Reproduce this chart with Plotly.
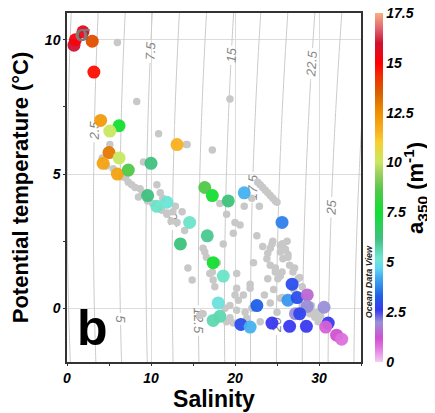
import numpy as np
import plotly.graph_objects as go

# ---------------- data ----------------
# background (grey) stations: salinity, potential temperature
grey_S = [6.0, 8.3, 10.9, 14.3, 17.3, 19.4, 5.1, 4.2, 9.1, 4.7,
          5.5, 6.5, 7.0, 7.3, 7.7, 8.1, 8.7, 8.5, 9.0, 9.6, 10.2, 10.7, 11.1, 11.4,
          11.3, 11.9, 12.6, 12.9, 13.1, 13.7, 12.4, 14.0,
          14.2, 11.9, 14.4, 14.9, 15.8, 16.4, 16.2, 16.6, 17.3, 17.6, 17.4, 17.0,
          17.9, 18.2, 19.0, 20.0, 20.6, 21.1, 22.0, 22.9, 22.6, 24.5, 25.6, 19.8,
          18.6, 20.2, 21.8, 22.2,
          22.7, 23.0, 23.3, 23.6, 23.9, 24.2, 24.5, 24.8, 25.0,
          19.4, 20.4, 20.2, 19.4, 19.8, 19.0, 21.2, 21.4, 22.0, 21.0, 20.2, 21.8,
          23.0, 16.2, 18.8, 20.0,
          23.3, 24.2, 25.4, 23.8, 24.2, 24.8, 25.1, 23.9, 25.4, 24.2, 25.0, 24.4,
          25.4, 26.0, 26.3, 25.7, 26.5, 26.9, 27.5, 28.0, 28.7, 29.5, 29.9, 29.3,
          23.9, 24.8, 25.6, 25.7, 26.2, 26.3, 27.1, 27.7, 25.4, 25.6, 28.9, 29.9,
          30.2, 28.0, 29.1, 24.6, 23.5, 27.0, 28.4]
grey_T = [9.9, 7.7, 6.5, 6.1, 5.9, 7.8, 6.1, 5.6, 5.45, 5.3,
          5.2, 4.9, 4.85, 4.7, 4.6, 4.5, 4.45, 4.15, 4.3, 4.0, 3.9, 4.6, 4.3, 4.1,
          3.65, 3.55, 3.6, 3.8, 3.2, 3.6, 3.25, 2.9,
          6.1, 3.5, 1.5, 1.05, -0.27, 2.1, 2.24, 1.9, 1.35, 0.8, 1.05, 1.3,
          1.7, 3.9, 3.5, 3.2, 3.1, 3.8, 4.1, 3.8, 2.7, 2.5, 2.4, 2.8,
          2.4, 1.3, 0.9, 1.7,
          4.7, 4.6, 4.5, 4.4, 4.3, 4.2, 4.1, 4.0, 3.95,
          0.1, 0.3, -0.07, -0.35, -0.55, -0.5, -0.15, -0.37, 0.0, 0.5, 0.75, 0.75,
          -0.5, -0.2, 0.0, 0.5,
          2.3, 2.24, 2.1, 1.85, 1.6, 1.35, 1.1, 1.1, 0.37, 0.2, -0.15, 2.4,
          2.35, 2.2, 2.0, 1.85, 1.6, 1.35, 1.1, 0.8, 0.0, -0.33, -0.15, -0.15,
          2.05, 1.5, 1.35, 2.4, 2.5, 1.9, 1.5, 1.15, 1.2, 0.4, -0.2, -0.5,
          -0.3, 0.1, 0.1, 0.7, 0.5, 0.7, 0.4]

# coloured stations: salinity, potential temperature, a350 (m-1)
col_S = [0.83, 1.0, 1.9, 3.0, 3.2, 4.0, 6.2, 5.1, 5.0, 4.3, 6.2, 6.0, 7.3,
         10.0, 9.6, 10.7, 11.9, 13.1, 13.5, 16.4, 17.3, 19.2, 21.1, 14.6, 16.7,
         25.6, 17.4, 18.6, 18.0, 17.4, 18.2, 20.7, 21.8, 22.6, 24.4,
         26.8, 26.3, 27.4, 28.6, 28.6, 27.2, 27.7, 30.6, 26.5, 28.5, 31.1,
         30.8, 32.1, 32.7]
col_T = [9.8, 10.0, 10.3, 9.95, 8.8, 7.0, 6.8, 6.6, 5.8, 5.4, 5.6, 5.0, 5.15,
         5.4, 4.2, 3.8, 3.95, 6.1, 2.4, 4.5, 4.2, 4.0, 4.3, 3.2, 2.7,
         3.2, 1.7, 1.2, 0.2, -0.45, -0.3, -0.6, -0.7, 0.1, -0.55,
         0.9, 0.3, 0.4, 0.5, 0.07, -0.2, -0.2, 0.04, -0.67, -0.67, -0.55,
         -0.7, -1.0, -1.15]
col_a350 = [16.0, 15.2, 15.5, 13.8, 14.8, 12.2, 7.6, 10.0, 13.0, 12.0, 10.0, 12.0, 8.6,
            6.2, 6.2, 5.3, 5.1, 11.6, 6.3, 8.6, 7.6, 6.3, 4.3, 5.3, 6.0,
            3.7, 7.6, 5.3, 5.0, 5.6, 5.6, 3.0, 4.3, 3.3, 2.6,
            3.0, 4.0, 3.0, 1.5, 2.0, 2.0, 2.8, 2.0, 2.6, 2.6, 2.6,
            1.0, 1.2, 0.8]

cbar_ticks = [0, 2.5, 5, 7.5, 10, 12.5, 15, 17.5]
sal_ticks = [0, 10, 20, 30]
temp_ticks = [0, 5, 10]


# ---------------- density (sigma-theta) reference field, EOS-80 at p=0 ----------------
def sigma0(S, T):
    rw = (999.842594 + 6.793952e-2 * T - 9.095290e-3 * T**2 + 1.001685e-4 * T**3
          - 1.120083e-6 * T**4 + 6.536332e-9 * T**5)
    A = 0.824493 - 4.0899e-3 * T + 7.6438e-5 * T**2 - 8.2467e-7 * T**3 + 5.3875e-9 * T**4
    B = -5.72466e-3 + 1.0227e-4 * T - 1.6546e-6 * T**2
    C = 4.8314e-4
    return rw + A * S + B * S**1.5 + C * S**2 - 1000.0


gS = np.linspace(0, 36, 181)
gT = np.linspace(-2.5, 11.5, 141)
SS, TT = np.meshgrid(gS, gT)
ZZ = sigma0(SS, TT)

FONT = "Liberation Sans, Arial, sans-serif"

colorscale = [
    [0.0, "#f2cdf2"], [0.04, "#e078e0"], [0.069, "#d050d0"], [0.114, "#9a90d8"],
    [0.149, "#3838f0"], [0.189, "#2060e8"], [0.24, "#40a8f0"], [0.269, "#60d8f0"],
    [0.297, "#70e8d0"], [0.354, "#40c080"], [0.4286, "#10e030"], [0.491, "#50c848"],
    [0.543, "#a0d060"], [0.571, "#c8e860"], [0.629, "#f8d030"], [0.663, "#f8b020"],
    [0.714, "#f09000"], [0.771, "#d86000"], [0.817, "#f03000"], [0.857, "#ff0000"],
    [0.914, "#d01030"], [0.954, "#e06070"], [1.0, "#f8b080"],
]

fig = go.Figure()

fig.add_trace(go.Contour(
    x=gS, y=gT, z=ZZ,
    contours=dict(start=0, end=27.5, size=2.5, coloring="lines", showlabels=True,
                  labelfont=dict(family=FONT, size=13, color="#858585", style="italic")),
    line=dict(width=1),
    colorscale=[[0, "#c9c9c9"], [1, "#c9c9c9"]],
    showscale=False, hoverinfo="skip",
))

fig.add_trace(go.Scatter(
    x=grey_S, y=grey_T, mode="markers",
    marker=dict(size=7.5, color="#c8c8c8"),
    hoverinfo="skip", showlegend=False,
))

fig.add_trace(go.Scatter(
    x=col_S, y=col_T, mode="markers",
    marker=dict(size=13, color=col_a350, colorscale=colorscale, cmin=0, cmax=17.5,
                opacity=0.95, line=dict(width=0),
                colorbar=dict(
                    x=1.048, xanchor="left", y=0.5, yanchor="middle", len=1.0,
                    lenmode="fraction", thickness=8, outlinewidth=0,
                    xpad=0, ypad=0, ticklabeloverflow="allow",
                    tickvals=cbar_ticks, ticktext=[f"{v:g}" for v in cbar_ticks],
                    ticks="",
                    tickfont=dict(family=FONT, size=14, color="black", weight="bold", style="italic"),
                )),
    showlegend=False,
))

axis_common = dict(
    showline=True, mirror=True, linecolor="#333333", linewidth=1.5,
    ticks="outside", ticklen=2, tickcolor="#333333",
    showgrid=True, gridcolor="#dcdcdc", gridwidth=1, zeroline=False,
    tickfont=dict(family=FONT, size=14, color="black", weight="bold", style="italic"),
)

fig.update_xaxes(range=[0, 35], tickvals=sal_ticks, **axis_common,
                 minor=dict(dtick=5, ticks="outside", ticklen=2, tickcolor="#333333", showgrid=False),
                 title=dict(text="Salinity", standoff=2,
                            font=dict(family=FONT, size=23, color="black", weight="bold")))
fig.update_yaxes(range=[-2, 11], tickvals=temp_ticks, **axis_common,
                 minor=dict(dtick=2.5, ticks="outside", ticklen=2, tickcolor="#333333", showgrid=False),
                 title=dict(text="Potential temperature (°C)", standoff=10,
                            font=dict(family=FONT, size=22, color="black", weight="bold")))

fig.add_annotation(x=3.0, y=-0.75, xref="x", yref="y", text="<b>b</b>", showarrow=False,
                   font=dict(family=FONT, size=50, color="black"))
fig.add_annotation(x=1.9, y=10.25, xref="x", yref="y", text="<b>σ</b>", showarrow=False,
                   font=dict(family=FONT, size=22, color="#7a7a7a"))
fig.add_annotation(x=1.026, y=0.12, xref="paper", yref="paper", text="Ocean Data View",
                   textangle=-90, showarrow=False, xanchor="center",
                   font=dict(family=FONT, size=9, color="#222222", weight="bold", style="italic"))
# colour-bar title
fig.add_annotation(x=1.185, y=0.50, xref="paper", yref="paper",
                   text="a<sub>350</sub> (m<sup>-1</sup>)", textangle=-90, showarrow=False,
                   xanchor="center", yanchor="middle",
                   font=dict(family=FONT, size=22, color="black", weight="bold"))

# the page body adds an 8 px offset, so the figure is 8 px smaller and the
# top/left margins are 8 px tighter to keep the plot where the reference has it
fig.update_layout(
    width=427, height=405,
    margin=dict(l=59, r=74, t=5, b=51, autoexpand=False),
    paper_bgcolor="white", plot_bgcolor="white",
    font=dict(family=FONT),
    showlegend=False,
)

fig.write_html("out.html")
